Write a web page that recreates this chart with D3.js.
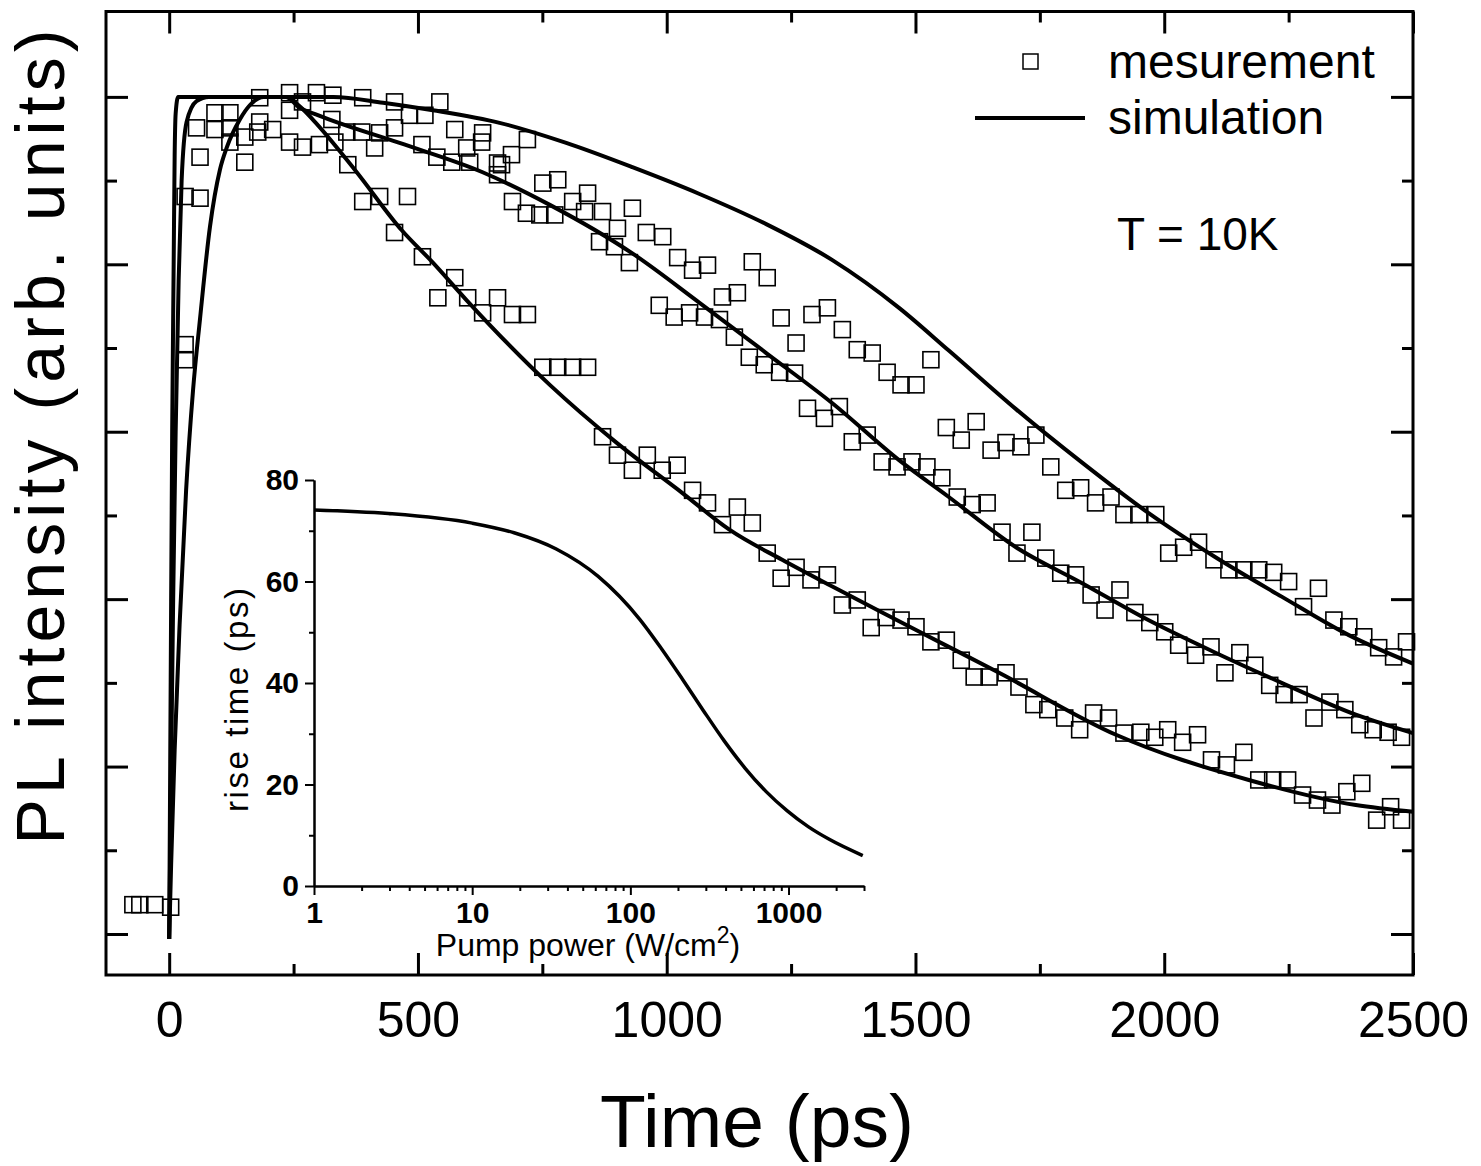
<!DOCTYPE html>
<html>
<head>
<meta charset="utf-8">
<script src="https://cdn.jsdelivr.net/npm/d3@7"></script>
<style>
  body { margin: 0; background: #fff; }
  text { font-family: "Liberation Sans", Arial, sans-serif; fill: #000; }
</style>
</head>
<body>
<svg width="1481" height="1166"></svg>
<script>
// tick values
const timeTicks = [0, 500, 1000, 1500, 2000, 2500];
const timeMinor = [250, 750, 1250, 1750, 2250];
const intensityTicks = [0, 0.2, 0.4, 0.6, 0.8, 1.0];
const intensityMinor = [0.1, 0.3, 0.5, 0.7, 0.9];
const powerTicks = [1, 10, 100, 1000];
const powerMinor = [2, 3, 4, 5, 6, 7, 8, 9, 20, 30, 40, 50, 60, 70, 80, 90,
                    200, 300, 400, 500, 600, 700, 800, 900, 2000, 3000];
const riseTicks = [0, 20, 40, 60, 80];
const riseMinor = [10, 30, 50, 70];

// simulation curves [time ps, intensity]
const simFast = [[0,-0.006],[4,0.085],[11,0.22],[21,0.37],[34,0.53],[48,0.65],[62,0.735],[82,0.845],
  [102,0.913],[116,0.94],[142,0.973],[162,0.99],[190,1.0],[235,1.0],[260,0.99],[290,0.972],[373,0.913],
  [467,0.841],[530,0.802],[598,0.757],[765,0.656],[899,0.587],[1031,0.527],[1126,0.483],[1232,0.447],
  [1333,0.415],[1433,0.384],[1567,0.343],[1668,0.312],[1903,0.238],[2170,0.184],[2385,0.154],[2500,0.146]];
const simMid = [[0,-0.006],[4,0.2],[8,0.4],[13,0.6],[19,0.78],[25,0.9],[35,0.97],[55,0.995],[80,1.0],
  [235,1.0],[260,0.988],[300,0.978],[463,0.945],[630,0.91],[765,0.871],[931,0.813],[1066,0.754],
  [1200,0.694],[1333,0.634],[1467,0.566],[1567,0.522],[1702,0.462],[1835,0.419],[1968,0.375],
  [2103,0.336],[2236,0.300],[2385,0.262],[2500,0.24]];
const simSlow = [[0,-0.006],[3,0.3],[6,0.6],[9,0.8],[11,0.93],[13,0.98],[18,1.0],[330,1.0],[430,0.993],
  [530,0.984],[664,0.969],[798,0.945],[931,0.916],[1066,0.884],[1200,0.848],[1333,0.805],[1467,0.748],
  [1567,0.697],[1702,0.627],[1835,0.563],[1968,0.503],[2103,0.450],[2236,0.403],[2371,0.357],[2500,0.323]];

// measured points [time ps, intensity]
const measFast = [[-73,0.035],[3,0.032],[32,0.704],[32,0.686],[62,0.928],[122,0.946],[152,0.922],
  [242,0.946],[268,0.940],[302,0.943],[333,0.946],[359,0.919],[389,0.875],[423,0.881],[479,0.881],
  [453,0.838],[509,0.809],[574,0.784],[540,0.760],[600,0.760],[660,0.760],[630,0.742],[690,0.740],
  [720,0.740],[751,0.677],[781,0.677],[811,0.677],[841,0.677],[871,0.594],[901,0.572],[931,0.554],
  [961,0.572],[991,0.554],[1021,0.560],[1052,0.530],[1082,0.515],[1112,0.489],[1142,0.510],[1172,0.491],
  [1202,0.455],[1230,0.425],[1260,0.438],[1290,0.423],[1323,0.429],[1353,0.393],[1383,0.399],[1411,0.366],
  [1441,0.378],[1471,0.375],[1501,0.367],[1531,0.349],[1562,0.351],[1592,0.327],[1618,0.307],[1648,0.307],
  [1682,0.312],[1708,0.295],[1738,0.274],[1766,0.268],[1800,0.258],[1830,0.244],[1858,0.264],[1888,0.258],
  [1919,0.240],[1953,0.241],[1981,0.235],[2007,0.244],[2037,0.229],[2067,0.238],[2095,0.208],[2125,0.202],
  [2160,0.217],[2190,0.184],[2218,0.184],[2248,0.184],[2278,0.166],[2308,0.160],[2337,0.154],[2367,0.170],
  [2397,0.180],[2427,0.136],[2455,0.152],[2477,0.136]];
const measMid = [[-59,0.035],[32,0.881],[62,0.879],[55,0.963],[92,0.961],[122,0.963],[152,0.952],
  [178,0.958],[208,0.961],[242,0.984],[268,0.994],[327,0.973],[357,0.958],[387,0.958],[423,0.957],
  [413,0.939],[453,0.963],[508,0.943],[538,0.928],[568,0.922],[598,0.939],[604,0.922],[628,0.946],
  [660,0.921],[660,0.907],[688,0.931],[690,0.875],[718,0.861],[745,0.859],[775,0.859],[811,0.875],
  [835,0.863],[871,0.863],[901,0.843],[865,0.827],[895,0.821],[925,0.802],[985,0.751],[1015,0.737],
  [1046,0.742],[1076,0.737],[1106,0.734],[1136,0.713],[1166,0.689],[1196,0.680],[1227,0.671],[1257,0.670],
  [1283,0.628],[1317,0.616],[1347,0.630],[1373,0.588],[1403,0.596],[1433,0.564],[1463,0.558],[1493,0.564],
  [1523,0.558],[1553,0.545],[1584,0.522],[1614,0.513],[1644,0.515],[1674,0.480],[1734,0.480],[1704,0.455],
  [1762,0.449],[1792,0.431],[1822,0.429],[1853,0.405],[1881,0.387],[1911,0.411],[1941,0.384],[1971,0.372],
  [2001,0.361],[2029,0.345],[2063,0.333],[2094,0.343],[2122,0.312],[2152,0.336],[2182,0.321],[2212,0.297],
  [2241,0.286],[2271,0.286],[2301,0.258],[2333,0.277],[2363,0.268],[2393,0.250],[2420,0.244],[2450,0.241],
  [2477,0.235]];
const measSlow = [[-29,0.035],[92,0.981],[122,0.981],[182,0.970],[182,0.999],[242,1.005],[296,1.005],
  [329,1.002],[389,0.999],[453,0.994],[483,0.978],[514,0.978],[544,0.994],[574,0.961],[630,0.957],
  [720,0.949],[668,0.919],[751,0.897],[781,0.901],[841,0.885],[931,0.867],[959,0.838],[992,0.833],
  [1022,0.808],[1052,0.793],[1082,0.799],[1112,0.761],[1142,0.766],[1172,0.803],[1202,0.784],[1230,0.736],
  [1260,0.706],[1292,0.740],[1323,0.748],[1353,0.722],[1383,0.698],[1413,0.694],[1443,0.671],[1471,0.656],
  [1501,0.656],[1531,0.686],[1562,0.605],[1592,0.590],[1622,0.612],[1652,0.578],[1682,0.587],[1712,0.582],
  [1742,0.596],[1772,0.558],[1802,0.530],[1832,0.533],[1862,0.515],[1893,0.522],[1919,0.501],[1949,0.501],
  [1983,0.501],[2009,0.455],[2039,0.462],[2069,0.468],[2100,0.447],[2130,0.435],[2160,0.435],[2190,0.435],
  [2220,0.432],[2250,0.421],[2280,0.391],[2310,0.413],[2341,0.375],[2371,0.367],[2401,0.355],[2431,0.342],
  [2461,0.331],[2487,0.349]];

// inset: rise time vs pump power
const insetPower = [1, 2.95, 10, 18.4, 34, 62.6, 115, 157, 213, 289, 392, 532, 722, 982, 1331, 1808, 2946];
const insetRise = [74.1, 73.4, 71.5, 69.6, 66.4, 61.0, 52.5, 46.8, 40.8, 34.6, 28.6, 23.2, 18.6, 14.8, 11.7, 9.2, 6.0];

const svg = d3.select('svg');

const x = d3.scaleLinear().domain([-127, 2500]).range([106, 1413]);
const y = d3.scaleLinear().domain([-0.049, 1.102]).range([975, 11.5]);

// ticks on all four sides, pointing inside
function ticks(axis, tx, ty, size) {
  const g = svg.append('g').attr('transform', `translate(${tx},${ty})`).call(axis.tickSize(size));
  g.select('.domain').remove();
  g.selectAll('line').attr('stroke', '#000').attr('stroke-width', 3);
  return g;
}
const bottom = ticks(d3.axisBottom(x).tickValues(timeTicks).tickFormat(d3.format('d')).tickPadding(26), 0, 975, -22);
bottom.selectAll('text').attr('font-size', 50).attr('font-family', '"Liberation Sans", Arial, sans-serif');
ticks(d3.axisBottom(x).tickValues(timeMinor).tickFormat(''), 0, 975, -11);
ticks(d3.axisTop(x).tickValues(timeTicks).tickFormat(''), 0, 11.5, -22);
ticks(d3.axisTop(x).tickValues(timeMinor).tickFormat(''), 0, 11.5, -11);
ticks(d3.axisLeft(y).tickValues(intensityTicks).tickFormat(''), 106, 0, -22);
ticks(d3.axisLeft(y).tickValues(intensityMinor).tickFormat(''), 106, 0, -11);
ticks(d3.axisRight(y).tickValues(intensityTicks).tickFormat(''), 1413, 0, -22);
ticks(d3.axisRight(y).tickValues(intensityMinor).tickFormat(''), 1413, 0, -11);

svg.append('rect')
  .attr('x', 106).attr('y', 11.5)
  .attr('width', 1413 - 106).attr('height', 975 - 11.5)
  .attr('fill', 'none').attr('stroke', '#000').attr('stroke-width', 3);

// measurement squares
const sq = 16;
[measFast, measMid, measSlow].forEach(series => {
  svg.append('g').selectAll('rect').data(series).join('rect')
    .attr('x', d => x(d[0]) - sq / 2)
    .attr('y', d => y(d[1]) - sq / 2)
    .attr('width', sq).attr('height', sq)
    .attr('fill', 'none').attr('stroke', '#000').attr('stroke-width', 1.6);
});

// simulation lines
const line = d3.line().x(d => x(d[0])).y(d => y(d[1])).curve(d3.curveMonotoneX);
[simFast, simMid, simSlow].forEach(series => {
  svg.append('path').attr('d', line(series))
    .attr('fill', 'none').attr('stroke', '#000')
    .attr('stroke-width', 4).attr('stroke-linejoin', 'round');
});

// axis titles
svg.append('text')
  .attr('x', 757).attr('y', 1147)
  .attr('text-anchor', 'middle').attr('font-size', 75)
  .text('Time (ps)');
svg.append('text')
  .attr('transform', 'translate(64,437) rotate(-90)')
  .attr('text-anchor', 'middle').attr('font-size', 68)
  .attr('textLength', 815).attr('lengthAdjust', 'spacing')
  .text('PL intensity (arb. units)');

// legend
svg.append('rect').attr('x', 1023).attr('y', 54).attr('width', 15).attr('height', 15)
  .attr('fill', 'none').attr('stroke', '#000').attr('stroke-width', 1.5);
svg.append('line').attr('x1', 975).attr('x2', 1085).attr('y1', 118).attr('y2', 118)
  .attr('stroke', '#000').attr('stroke-width', 4);
svg.append('text').attr('x', 1108).attr('y', 78).attr('font-size', 48).text('mesurement');
svg.append('text').attr('x', 1108).attr('y', 134).attr('font-size', 48).text('simulation');
svg.append('text').attr('x', 1117).attr('y', 250).attr('font-size', 46).text('T = 10K');

// inset
const ix = d3.scaleLog().domain([1, 3000]).range([314, 864]);
const iy = d3.scaleLinear().domain([0, 80]).range([886, 480]);

function insetAxis(axis, tx, ty) {
  const g = svg.append('g').attr('transform', `translate(${tx},${ty})`).call(axis);
  g.selectAll('line, path').attr('stroke', '#000').attr('stroke-width', 2);
  g.selectAll('text').attr('font-size', 30).attr('font-weight', 'bold')
    .attr('font-family', '"Liberation Sans", Arial, sans-serif');
  return g;
}
insetAxis(d3.axisLeft(iy).tickValues(riseMinor).tickFormat('').tickSize(5).tickSizeOuter(0), 314, 0);
insetAxis(d3.axisLeft(iy).tickValues(riseTicks).tickSize(9).tickSizeOuter(0).tickPadding(6), 314, 0);
insetAxis(d3.axisBottom(ix).tickValues(powerMinor).tickFormat('').tickSize(5).tickSizeOuter(0), 0, 886);
insetAxis(d3.axisBottom(ix).tickValues(powerTicks).tickFormat(d3.format('d')).tickSize(9).tickSizeOuter(0).tickPadding(7), 0, 886);

const insetLine = d3.line()
  .x((d, i) => ix(insetPower[i]))
  .y(d => iy(d))
  .curve(d3.curveMonotoneX);
svg.append('path').attr('d', insetLine(insetRise))
  .attr('fill', 'none').attr('stroke', '#000').attr('stroke-width', 3.5);

const pump = svg.append('text')
  .attr('x', 588).attr('y', 956)
  .attr('text-anchor', 'middle').attr('font-size', 32);
pump.append('tspan').text('Pump power (W/cm');
pump.append('tspan').attr('font-size', 23).attr('dy', -13).text('2');
pump.append('tspan').attr('dy', 13).text(')');

svg.append('text')
  .attr('transform', 'translate(248,700) rotate(-90)')
  .attr('text-anchor', 'middle').attr('font-size', 33)
  .attr('textLength', 224).attr('lengthAdjust', 'spacing')
  .text('rise time (ps)');
</script>
</body>
</html>
